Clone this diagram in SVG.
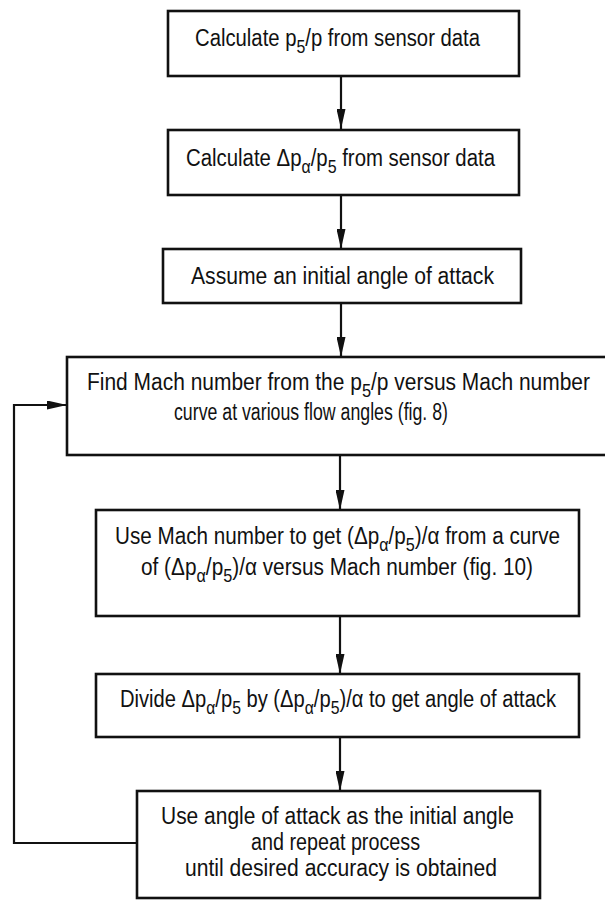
<svg xmlns="http://www.w3.org/2000/svg" width="605" height="901" viewBox="0 0 605 901">
<style>
.box{fill:#fff;stroke:#111;stroke-width:2.6}
.t{font-family:"Liberation Sans",Arial,sans-serif;font-size:23px;fill:#111}
.s{font-size:18px}
.c{fill:none;stroke:#111;stroke-width:2.2}
</style>
<defs>
<marker id="ah" markerUnits="userSpaceOnUse" markerWidth="20" markerHeight="9" refX="20" refY="4.5" orient="auto" viewBox="0 0 20 9"><path d="M0,0 L20,4.5 L0,9 Z" fill="#111"/></marker>
</defs>
<rect width="605" height="901" fill="#fff"/>
<g id="connectors">
<line class="c" x1="341" y1="76" x2="341" y2="129" marker-end="url(#ah)"/>
<line class="c" x1="341" y1="195" x2="341" y2="249" marker-end="url(#ah)"/>
<line class="c" x1="341" y1="303" x2="341" y2="357" marker-end="url(#ah)"/>
<line class="c" x1="340" y1="455" x2="340" y2="510" marker-end="url(#ah)"/>
<line class="c" x1="340" y1="616" x2="340" y2="674" marker-end="url(#ah)"/>
<line class="c" x1="340" y1="737" x2="340" y2="791" marker-end="url(#ah)"/>
<polyline class="c" points="137,843 14,843 14,405 67,405" marker-end="url(#ah)"/>
</g>
<g id="n1">
<rect class="box" x="168" y="11" width="351" height="65"/>
<text class="t" x="195" y="46" textLength="285" lengthAdjust="spacingAndGlyphs">Calculate p<tspan class="s" dy="7">5</tspan><tspan dy="-7">/p from sensor data</tspan></text>
</g>
<g id="n2">
<rect class="box" x="168" y="130" width="351" height="65"/>
<text class="t" x="186" y="166" textLength="309" lengthAdjust="spacingAndGlyphs">Calculate Δp<tspan class="s" dy="7">α</tspan><tspan dy="-7">/p</tspan><tspan class="s" dy="7">5</tspan><tspan dy="-7"> from sensor data</tspan></text>
</g>
<g id="n3">
<rect class="box" x="163" y="249" width="358" height="54"/>
<text class="t" x="191" y="284" textLength="303" lengthAdjust="spacingAndGlyphs">Assume an initial angle of attack</text>
</g>
<g id="n4">
<rect class="box" x="67" y="357" width="545" height="98"/>
<text class="t" x="87" y="390" textLength="503" lengthAdjust="spacingAndGlyphs">Find Mach number from the p<tspan class="s" dy="7">5</tspan><tspan dy="-7">/p versus Mach number</tspan></text>
<text class="t" x="174" y="420" textLength="274" lengthAdjust="spacingAndGlyphs">curve at various flow angles (fig. 8)</text>
</g>
<g id="n5">
<rect class="box" x="96" y="510" width="483" height="106"/>
<text class="t" x="115" y="544" textLength="445" lengthAdjust="spacingAndGlyphs">Use Mach number to get (Δp<tspan class="s" dy="7">α</tspan><tspan dy="-7">/p</tspan><tspan class="s" dy="7">5</tspan><tspan dy="-7">)/α from a curve</tspan></text>
<text class="t" x="141" y="575" textLength="392" lengthAdjust="spacingAndGlyphs">of (Δp<tspan class="s" dy="7">α</tspan><tspan dy="-7">/p</tspan><tspan class="s" dy="7">5</tspan><tspan dy="-7">)/α versus Mach number (fig. 10)</tspan></text>
</g>
<g id="n6">
<rect class="box" x="96" y="674" width="483" height="63"/>
<text class="t" x="120" y="707" textLength="436" lengthAdjust="spacingAndGlyphs">Divide Δp<tspan class="s" dy="7">α</tspan><tspan dy="-7">/p</tspan><tspan class="s" dy="7">5</tspan><tspan dy="-7"> by (Δp</tspan><tspan class="s" dy="7">α</tspan><tspan dy="-7">/p</tspan><tspan class="s" dy="7">5</tspan><tspan dy="-7">)/α to get angle of attack</tspan></text>
</g>
<g id="n7">
<rect class="box" x="137" y="791" width="403" height="107"/>
<text class="t" x="161" y="824" textLength="353" lengthAdjust="spacingAndGlyphs">Use angle of attack as the initial angle</text>
<text class="t" x="251" y="850" textLength="169" lengthAdjust="spacingAndGlyphs">and repeat process</text>
<text class="t" x="185" y="876" textLength="312" lengthAdjust="spacingAndGlyphs">until desired accuracy is obtained</text>
</g>
</svg>
